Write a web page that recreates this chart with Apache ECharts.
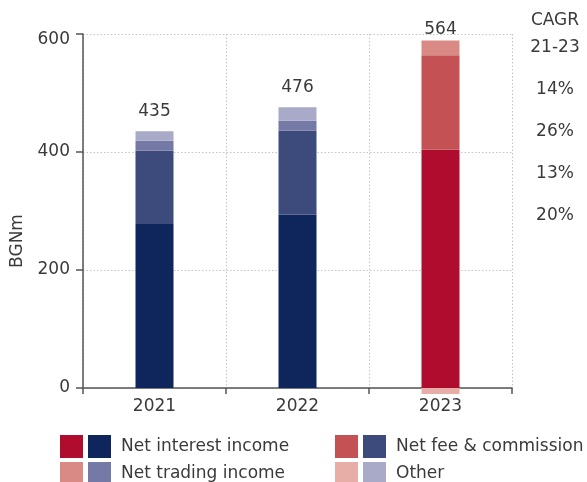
<!DOCTYPE html>
<html>
<head>
<meta charset="utf-8">
<title>Operating income by component</title>
<script src="https://cdn.jsdelivr.net/npm/echarts@6/dist/echarts.min.js"></script>
<style>
  html, body { margin: 0; padding: 0; background: #ffffff; }
  #chart { width: 587px; height: 482px; }
</style>
</head>
<body>
<div id="chart"></div>
<script>
// Income components, BGN million
const categories = ['2021', '2022', '2023'];
const interestIncome = [278, 294, 404];
const feeIncome = [124, 142, 160];
const tradingIncome = [17, 17, 25];
const otherIncome = [16, 23, -10];
const totals = [435, 476, 564];

// Compound annual growth column
const cagrHeader = ['CAGR', '21-23'];
const cagrValues = ['14%', '26%', '13%', '20%'];

const componentNames = ['Net interest income', 'Net fee & commission', 'Net trading income', 'Other'];
const blueColors = ['#0f265c', '#3d4a7c', '#7479a6', '#a9aac8'];
const redColors = ['#b00c2e', '#c45254', '#d98a84', '#e7aea8'];
const RED_SUFFIX = ' 2023';

const FONT = '"DejaVu Sans", sans-serif';
const TEXT = '#3a3a3a';

const components = [interestIncome, feeIncome, tradingIncome, otherIncome];
const lastIdx = categories.length - 1;

// 2021-2022 drawn in blue, 2023 in red
const series = [];
components.forEach((vals, i) => {
  series.push({
    name: componentNames[i],
    type: 'bar',
    stack: 'income',
    barWidth: 38,
    clip: false,
    itemStyle: { color: blueColors[i] },
    data: vals.map((v, k) => (k < lastIdx ? v : '-')),
    label: i === 3 ? {
      show: true, position: 'top', distance: 11,
      fontFamily: FONT, fontSize: 17, color: TEXT,
      formatter: p => String(totals[p.dataIndex])
    } : { show: false }
  });
});
components.forEach((vals, i) => {
  series.push({
    name: componentNames[i] + RED_SUFFIX,
    type: 'bar',
    stack: 'income',
    barWidth: 38,
    clip: false,
    itemStyle: { color: redColors[i] },
    data: vals.map((v, k) => (k === lastIdx ? v : '-')),
    label: i === 2 ? {
      show: true, position: 'top', distance: 2,
      fontFamily: FONT, fontSize: 17, color: TEXT,
      formatter: p => String(totals[p.dataIndex])
    } : { show: false }
  });
});

// One legend row per component: red swatch, blue swatch, then the name
function legendRow(left, top, compIdx) {
  return {
    orient: 'horizontal',
    left: left,
    top: top,
    padding: 0,
    itemGap: 5,
    itemWidth: 23,
    itemHeight: 23,
    icon: 'rect',
    selectedMode: false,
    data: [componentNames[compIdx] + RED_SUFFIX, componentNames[compIdx]],
    formatter: n => (n.endsWith(RED_SUFFIX) ? '' : '{t|' + n + '}'),
    textStyle: {
      fontFamily: FONT, fontSize: 17, color: TEXT,
      rich: { t: { fontFamily: FONT, fontSize: 17, color: TEXT, padding: [0, 0, 0, 5] } }
    }
  };
}

const graphics = [{
  type: 'text',
  x: 18, y: 241,
  rotation: Math.PI / 2,
  style: {
    text: 'BGNm', fontFamily: FONT, fontSize: 17, fill: TEXT,
    textAlign: 'center', textVerticalAlign: 'middle'
  }
}];
const cagrY = [21, 48, 90, 132, 174, 216];
cagrHeader.concat(cagrValues).forEach((t, i) => {
  graphics.push({
    type: 'text',
    x: 555, y: cagrY[i],
    style: {
      text: t, fontFamily: FONT, fontSize: 17, fill: TEXT,
      textAlign: 'center', textVerticalAlign: 'middle'
    }
  });
});

const chart = echarts.init(document.getElementById('chart'), null, { renderer: 'canvas' });
chart.setOption({
  animation: false,
  backgroundColor: '#ffffff',
  grid: { left: 83, right: 75, top: 34, bottom: 94, containLabel: false },
  xAxis: {
    type: 'category',
    data: categories,
    axisLine: { lineStyle: { color: '#555555', width: 1.5 } },
    axisTick: { show: true, length: 6, lineStyle: { color: '#555555', width: 1.5 } },
    axisLabel: { margin: 10, fontFamily: FONT, fontSize: 17, color: TEXT },
    splitLine: { show: true, lineStyle: { type: [1.5, 2], color: '#c4c4c4', width: 1 } }
  },
  yAxis: {
    type: 'value',
    min: 0, max: 600, interval: 200,
    axisLine: { show: true, lineStyle: { color: '#555555', width: 1.5 } },
    axisTick: { show: true, length: 7, lineStyle: { color: '#555555', width: 1.5 } },
    axisLabel: {
      margin: 13, fontFamily: FONT, fontSize: 17, color: TEXT,
      formatter: v => (v === 600 ? '{top|' + v + '}' : String(v)),
      rich: { top: { padding: [11, 0, 0, 0], fontFamily: FONT, fontSize: 17, color: TEXT } }
    },
    splitLine: { show: true, lineStyle: { type: [1.5, 2], color: '#c4c4c4', width: 1 } }
  },
  legend: [
    legendRow(60, 435, 0),
    legendRow(60, 462, 2),
    legendRow(335, 435, 1),
    legendRow(335, 462, 3)
  ],
  graphic: graphics,
  series: series
});
</script>
</body>
</html>
